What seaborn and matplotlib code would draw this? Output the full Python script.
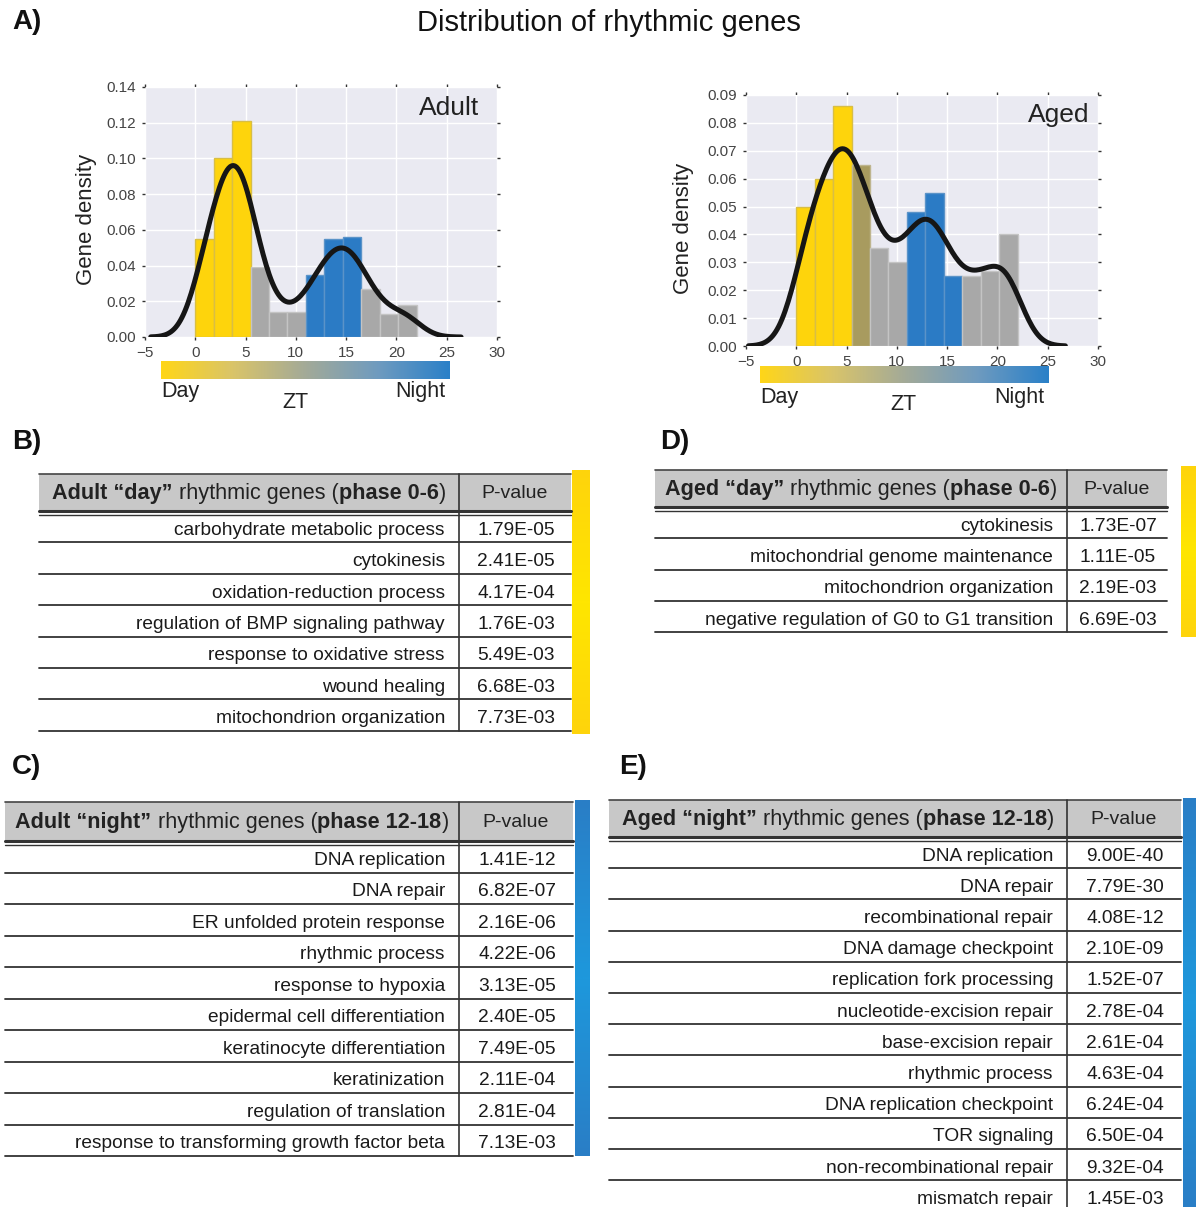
import numpy as np
import pandas as pd
import seaborn as sns
import matplotlib.pyplot as plt
from matplotlib.colors import LinearSegmentedColormap

# Histogram data (bin heights, 12 ZT bins over 0-22)
zt_range = (0, 22)
n_bins = 12
adult_density = [0.055, 0.100, 0.121, 0.039, 0.014, 0.014, 0.035, 0.055, 0.056, 0.027, 0.013, 0.018]
aged_density = [0.050, 0.060, 0.086, 0.065, 0.035, 0.030, 0.048, 0.055, 0.025, 0.025, 0.027, 0.040]
adult_groups = ['day'] * 3 + ['other'] * 3 + ['night'] * 3 + ['other'] * 3
aged_groups = ['day'] * 3 + ['dusk'] + ['other'] * 2 + ['night'] * 3 + ['other'] * 3

# Enrichment tables
adult_day_terms = ['carbohydrate metabolic process', 'cytokinesis', 'oxidation-reduction process',
                   'regulation of BMP signaling pathway', 'response to oxidative stress',
                   'wound healing', 'mitochondrion organization']
adult_day_pvals = ['1.79E-05', '2.41E-05', '4.17E-04', '1.76E-03', '5.49E-03', '6.68E-03', '7.73E-03']

aged_day_terms = ['cytokinesis', 'mitochondrial genome maintenance', 'mitochondrion organization',
                  'negative regulation of G0 to G1 transition']
aged_day_pvals = ['1.73E-07', '1.11E-05', '2.19E-03', '6.69E-03']

adult_night_terms = ['DNA replication', 'DNA repair', 'ER unfolded protein response', 'rhythmic process',
                     'response to hypoxia', 'epidermal cell differentiation',
                     'keratinocyte differentiation', 'keratinization', 'regulation of translation',
                     'response to transforming growth factor beta']
adult_night_pvals = ['1.41E-12', '6.82E-07', '2.16E-06', '4.22E-06', '3.13E-05', '2.40E-05',
                     '7.49E-05', '2.11E-04', '2.81E-04', '7.13E-03']

aged_night_terms = ['DNA replication', 'DNA repair', 'recombinational repair', 'DNA damage checkpoint',
                    'replication fork processing', 'nucleotide-excision repair', 'base-excision repair',
                    'rhythmic process', 'DNA replication checkpoint', 'TOR signaling',
                    'non-recombinational repair', 'mismatch repair']
aged_night_pvals = ['9.00E-40', '7.79E-30', '4.08E-12', '2.10E-09', '1.52E-07', '2.78E-04',
                    '2.61E-04', '4.63E-04', '6.24E-04', '6.50E-04', '9.32E-04', '1.45E-03']

sns.set_theme(style='darkgrid')
plt.rcParams['font.family'] = ['Liberation Sans', 'DejaVu Sans']

W, H = 1196, 1207
fig = plt.figure(figsize=(W / 100, H / 100), dpi=100)

group_colors = {'day': '#FED40C', 'night': '#2B7BC5', 'other': '#A8A8A8', 'dusk': '#A89B5F'}
edge_colors = {'day': '#D8BE45', 'night': '#5A93C8', 'other': '#C4C4C4', 'dusk': '#BEB58E'}
zt_cmap = LinearSegmentedColormap.from_list('zt', ['#FFD618', '#D9C46A', '#A3AA98', '#6F9BBF', '#2A80C8'])


def px_axes(l, t, r, b):
    return fig.add_axes([l / W, 1 - b / H, (r - l) / W, (b - t) / H])


def hist_panel(box, dens, groups, bw, ymax, yticks, name, name_pos, ylab_x, cbar_box, lab_y, zt_xy):
    ax = px_axes(*box)
    width = (zt_range[1] - zt_range[0]) / n_bins
    centers = zt_range[0] + width * (np.arange(n_bins) + 0.5)
    df = pd.DataFrame({'zt': centers, 'density': dens})
    sns.histplot(data=df, x='zt', weights='density', bins=n_bins, binrange=zt_range, stat='count',
                 ax=ax, alpha=1, linewidth=1.0)
    for patch, g in zip(ax.patches, groups):
        patch.set_facecolor(group_colors[g])
        patch.set_edgecolor(edge_colors[g])
    sns.kdeplot(data=df, x='zt', weights='density', bw_method=bw, cut=3.3, ax=ax,
                color='#161616', linewidth=3.6)
    ax.set_xlim(-5, 30)
    ax.set_ylim(0, ymax)
    ax.set_xticks(range(-5, 31, 5))
    ax.set_yticks(yticks)
    ax.set_yticklabels([f'{v:.2f}' for v in yticks])
    ax.tick_params(labelsize=11, labelcolor='#444444', pad=4, length=2.5, width=1,
                   color='#333333', top=True, right=True, left=True, bottom=True,
                   labeltop=False, labelright=False)
    for s in ax.spines.values():
        s.set_visible(False)
    ax.set_xlabel('')
    ax.set_ylabel('Gene density', fontsize=16, color='#222222')
    ax.yaxis.set_label_coords(ylab_x, 0.47)
    ax.text(name_pos[0], name_pos[1], name, transform=ax.transAxes, ha='right', va='center',
            fontsize=19, color='#222222')
    cax = px_axes(*cbar_box)
    cax.imshow(np.linspace(0, 1, 256)[None, :], cmap=zt_cmap, aspect='auto')
    cax.axis('off')
    fig.text(cbar_box[0] / W, 1 - lab_y / H, 'Day', ha='left', va='center', fontsize=15.5, color='#222222')
    fig.text((cbar_box[2] - 5) / W, 1 - lab_y / H, 'Night', ha='right', va='center', fontsize=15.5,
             color='#222222')
    fig.text(zt_xy[0] / W, 1 - zt_xy[1] / H, 'ZT', ha='center', va='center', fontsize=15.5, color='#222222')


hist_panel((145, 87, 497, 337), adult_density, adult_groups, 0.245, 0.14, np.arange(0, 0.141, 0.02),
           'Adult', (0.95, 0.915), -0.135, (161, 361, 450, 379), 392, (295, 403))
hist_panel((746, 95, 1098, 346), aged_density, aged_groups, 0.26, 0.09, np.arange(0, 0.091, 0.01),
           'Aged', (0.975, 0.92), -0.148, (760, 366, 1049, 383), 397, (903, 405))

# Overlay axes in pixel units for tables and labels
ov = fig.add_axes([0, 0, 1, 1], facecolor='none')
ov.set_xlim(0, W)
ov.set_ylim(H, 0)
ov.axis('off')
renderer = fig.canvas.get_renderer()

ov.text(12, 22, 'A)', fontsize=20, fontweight='bold', va='center', ha='left', color='#111111')
ov.text(609, 23, 'Distribution of rhythmic genes', fontsize=21, va='center', ha='center', color='#111111')
for lab, x, y in [('B)', 12, 442), ('C)', 12, 767), ('D)', 660, 442), ('E)', 619, 767)]:
    ov.text(x, y, lab, fontsize=20, fontweight='bold', va='center', ha='left', color='#111111')


def rich_header(parts, cx, cy, size=15.6):
    texts = []
    for s, w in parts:
        t = ov.text(0, cy, s, fontsize=size, fontweight=w, va='center', ha='left', color='#222222')
        texts.append(t)
    widths = [t.get_window_extent(renderer=renderer).width for t in texts]
    x = cx - sum(widths) / 2
    for t, wd in zip(texts, widths):
        t.set_x(x)
        x += wd


def draw_table(title, terms, pvals, left, sep, right, top, head_h, row_h, bar, bar_color):
    hb = top + head_h
    ov.fill_between([left, right], top, hb, color='#C8C8C8', lw=0)
    ov.plot([left, right], [top, top], color='#444444', lw=1.2)
    ov.plot([left, right], [hb, hb], color='#333333', lw=2.2)
    ov.plot([left, right], [hb + 3.5, hb + 3.5], color='#333333', lw=1)
    rich_header(title, (left + sep) / 2, top + head_h / 2 + 1)
    ov.text((sep + right) / 2, top + head_h / 2 + 1, 'P-value', fontsize=14, ha='center', va='center',
            color='#222222')
    n = len(terms)
    bottom = hb + row_h * n
    ov.plot([sep, sep], [top, min(bottom, H)], color='#333333', lw=1.2)
    for i, (term, p) in enumerate(zip(terms, pvals)):
        yc = hb + row_h * (i + 0.5) + 3.5
        ov.text(sep - 14, yc, term, fontsize=13.8, ha='right', va='center', color='#1A1A1A')
        ov.text((sep + right) / 2 + 1, yc, p, fontsize=13.8, ha='center', va='center', color='#1A1A1A')
        yl = hb + row_h * (i + 1)
        if yl < H:
            ov.plot([left, right], [yl, yl], color='#333333', lw=1.3)
    # coloured side bar with a brighter middle
    bl, bt, br, bb = bar
    glow = LinearSegmentedColormap.from_list('g', bar_color)
    ov.imshow(np.abs(np.linspace(-1, 1, 200))[:, None], cmap=glow, aspect='auto',
              extent=(bl, br, bb, bt), zorder=1)


draw_table([('Adult “day”', 'bold'), (' rhythmic genes (', 'normal'), ('phase 0-6', 'bold'), (')', 'normal')],
           adult_day_terms, adult_day_pvals, 39, 459, 571, 474, 37, 31.4, (572, 470, 590, 734),
           ['#FFE600', '#FED40C'])
draw_table([('Aged “day”', 'bold'), (' rhythmic genes (', 'normal'), ('phase 0-6', 'bold'), (')', 'normal')],
           aged_day_terms, aged_day_pvals, 655, 1067, 1167, 470, 37, 31.3, (1181, 466, 1196, 637),
           ['#FFE600', '#FED40C'])
draw_table([('Adult “night”', 'bold'), (' rhythmic genes (', 'normal'), ('phase 12-18', 'bold'), (')', 'normal')],
           adult_night_terms, adult_night_pvals, 5, 459, 573, 802, 39, 31.5, (575, 800, 590, 1156),
           ['#1E98DC', '#2A7EC6'])
draw_table([('Aged “night”', 'bold'), (' rhythmic genes (', 'normal'), ('phase 12-18', 'bold'), (')', 'normal')],
           aged_night_terms, aged_night_pvals, 609, 1067, 1181, 800, 37, 31.2, (1183, 798, 1196, 1207),
           ['#1E98DC', '#2A7EC6'])

ov.set_xlim(0, W)
ov.set_ylim(H, 0)

fig.savefig('out.png', dpi=100)
